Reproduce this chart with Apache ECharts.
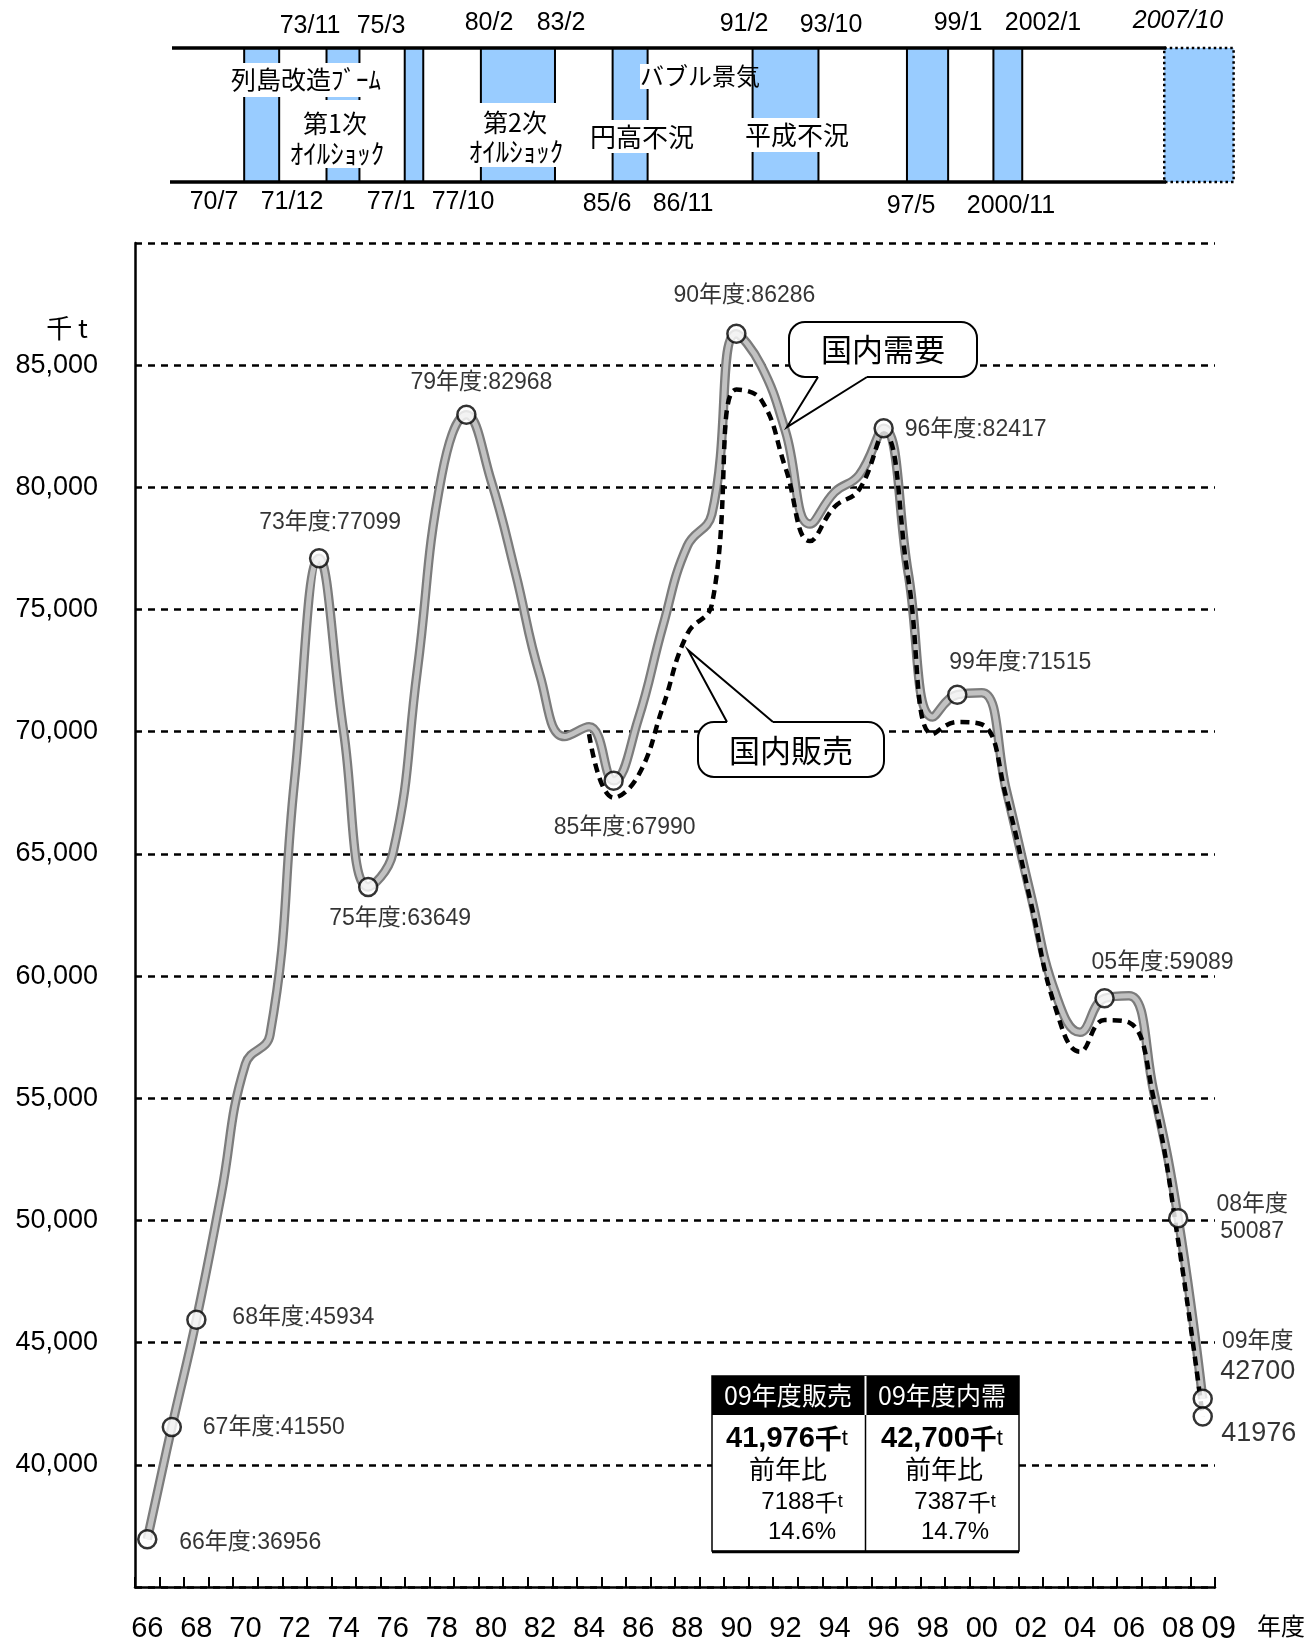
<!DOCTYPE html>
<html><head><meta charset="utf-8">
<script src="https://cdn.jsdelivr.net/npm/echarts@6/dist/echarts.min.js"></script>
<style>html,body{margin:0;padding:0;background:#fff}#c{width:1315px;height:1646px}</style>
</head><body><div id="c"></div>
<script>
// ---------- data ----------
const years = ['66','67','68','69','70','71','72','73','74','75','76','77','78','79','80','81','82','83','84','85','86','87','88','89','90','91','92','93','94','95','96','97','98','99','00','01','02','03','04','05','06','07','08','09'];
const demand = [36956,41550,45934,51000,56400,57600,68000,77099,70000,63649,65000,72500,80500,82968,80300,76500,72300,69800,70200,67990,70500,74300,77600,78900,86286,85000,82300,78500,79800,80500,82417,76500,70600,71515,71600,67600,63300,59300,57700,59089,59200,55300,50087,42700];
const sales  = [null,null,null,null,null,null,null,null,null,null,null,null,null,null,null,null,null,null,69900,67300,68200,71000,74000,75200,84000,83600,80800,77800,79200,79900,82200,76300,69900,70400,70300,67300,63000,58700,56900,58200,58100,55000,49164,41976];
const markedYears = ['66','67','68','73','75','79','85','90','96','99','05','08','09'];
const yMin = 35000, yMax = 90000, yStep = 5000;
// recession periods (top panel)
const recessions = [
  {start:'70/7', end:'71/12'}, {start:'73/11', end:'75/3'}, {start:'77/1', end:'77/10'},
  {start:'80/2', end:'83/2'}, {start:'85/6', end:'86/11'}, {start:'91/2', end:'93/10'},
  {start:'97/5', end:'99/1'}, {start:'2000/11', end:'2002/1'}, {start:'2007/10', end:null}
];
const topDates = ['73/11','75/3','80/2','83/2','91/2','93/10','99/1','2002/1','2007/10'];
const bottomDates = ['70/7','71/12','77/1','77/10','85/6','86/11','97/5','2000/11'];
const phases = ['列島改造ﾌﾞｰﾑ','第1次','ｵｲﾙｼｮｯｸ','第2次','ｵｲﾙｼｮｯｸ','円高不況','バブル景気','平成不況'];

// ---------- layout / style ----------
const FONT = '"Liberation Sans","Noto Sans CJK JP",sans-serif';
const JP = '"Noto Sans CJK JP","Liberation Sans",sans-serif';
const PANEL_LEFT = 132, PANEL_PX_PER_YEAR = 24.7, PANEL_MAX = 2010.6;

function toYear(s){ const [a,b] = s.split('/'); let y = +a; if (y < 100) y += 1900; return y + (+b - 0.5)/12; }

const labelStyle = {
  '66': {align:'left', offset:[32,3]},
  '67': {align:'left', offset:[31,1]},
  '68': {align:'left', offset:[36,-2]},
  '73': {align:'center', offset:[11,-36]},
  '75': {align:'center', offset:[32,32]},
  '79': {align:'center', offset:[15,-32]},
  '85': {align:'center', offset:[11,47]},
  '90': {align:'center', offset:[8,-38]},
  '96': {align:'left', offset:[21,1]},
  '99': {align:'center', offset:[63,-32]},
  '05': {align:'center', offset:[58,-36]},
  '08': {align:'center', offset:[74,0], two:true},
  '09': {align:'center', offset:[55,-42], big:true}
};

const markerData = markedYears.map(y => {
  const i = years.indexOf(y), v = demand[i], st = labelStyle[y];
  let fmt = y + '年度:' + v;
  if (st.two) fmt = y + '年度\n' + v;
  if (st.big) fmt = '{a|' + y + '年度}\n{b|' + v + '}';
  return { value: [y, v], label: { show:true, position:'inside', align:st.align, verticalAlign:'middle',
    offset: st.offset, formatter: fmt, fontSize: 23, lineHeight: 27, color:'#000', textBorderWidth:0, fontFamily: FONT,
    rich: { a:{fontSize:23, lineHeight:30, fontFamily:FONT, color:'#000'}, b:{fontSize:27, lineHeight:30, fontFamily:FONT, color:'#000'} } } };
});
const lastI = years.length - 1;
markerData.push({ value: [years[lastI], sales[lastI]], label: { show:true, position:'inside', align:'center',
  verticalAlign:'middle', offset:[56,17], formatter: String(sales[lastI]), fontSize:27, color:'#000', textBorderWidth:0, fontFamily:FONT } });

const panelData = recessions.map(r => [toYear(r.start), r.end ? toYear(r.end) : PANEL_MAX, r.end ? 0 : 1]);

// table values
const sDiff = sales[lastI-1] - sales[lastI], dDiff = demand[lastI-1] - demand[lastI];
const sPct = (Math.round(sDiff / sales[lastI-1] * 1000) / 10).toFixed(1) + '%';
const dPct = (Math.round(dDiff / demand[lastI-1] * 1000) / 10).toFixed(1) + '%';
const fmtN = n => n.toLocaleString('en-US');

function txt(x, y, text, size, extra) {
  return Object.assign({ type:'text', x, y, z:50, style: Object.assign({ text, fontSize:size, fontFamily:FONT,
    fill:'#000', align:'center', verticalAlign:'middle' }, (extra && extra.style) || {}) }, extra && extra.el || {});
}

const graphics = [];
// panel lines
graphics.push({type:'line', z:40, shape:{x1:172,y1:48,x2:1166,y2:48}, style:{stroke:'#000', lineWidth:3.5}});
graphics.push({type:'line', z:40, shape:{x1:170,y1:182,x2:1166,y2:182}, style:{stroke:'#000', lineWidth:3.5}});
// white label backgrounds
[[222,63,170,34],[284,100,106,68],[464,103,104,64],[588,120,108,33],[640,64,110,25],[743,118,109,34]].forEach(r =>
  graphics.push({type:'rect', z:41, shape:{x:r[0],y:r[1],width:r[2],height:r[3]}, style:{fill:'#fff'}}));
// phase labels
graphics.push(txt(306,79, phases[0], 25, {style:{fontFamily:JP}}));
graphics.push(txt(335,123, phases[1], 25, {style:{fontFamily:JP}}));
graphics.push(txt(337,154, phases[2], 27, {style:{fontFamily:JP}}));
graphics.push(txt(515,122, phases[3], 25, {style:{fontFamily:JP}}));
graphics.push(txt(516,152, phases[4], 27, {style:{fontFamily:JP}}));
graphics.push(txt(642,137, phases[5], 26, {style:{fontFamily:JP}}));
graphics.push(txt(700,76, phases[6], 24, {style:{fontFamily:JP}}));
graphics.push(txt(797,135, phases[7], 26, {style:{fontFamily:JP}}));
// date labels
const topPos = [[310,26],[381,26],[489,23],[561,23],[744,24],[831,25],[958,23],[1043,23],[1178,21]];
topDates.forEach((d,i) => graphics.push(txt(topPos[i][0], topPos[i][1], d, 25,
  i === topDates.length-1 ? {style:{fontStyle:'italic'}} : null)));
const botPos = [[214,202],[292,202],[391,202],[463,202],[607,204],[683,204],[911,206],[1011,206]];
bottomDates.forEach((d,i) => graphics.push(txt(botPos[i][0], botPos[i][1], d, 25)));
// axis unit labels
graphics.push(txt(67,328,'千 t',26,{style:{fontFamily:JP}}));
graphics.push(txt(1281,1626,'年度',24,{style:{fontFamily:JP}}));
// callouts
function callout(box, base, tip, label, tc) {
  const [x,y,w,h] = box;
  graphics.push({type:'rect', z:45, shape:{x,y,width:w,height:h,r:16}, style:{fill:'#fff', stroke:'#000', lineWidth:2}});
  const by = base[2], dir = tip[1] > by ? -1 : 1;
  graphics.push({type:'polygon', z:46, shape:{points:[[base[0],by+dir*7],[base[1],by+dir*7],[base[1],by],tip,[base[0],by]]}, style:{fill:'#fff'}});
  graphics.push({type:'polyline', z:47, shape:{points:[[base[0],by],tip,[base[1],by]]}, style:{stroke:'#000', lineWidth:2, fill:null}});
  graphics.push(txt(tc[0], tc[1], label, 31, {style:{fontFamily:JP}}));
}
callout([789,322,188,55],[818,867,377],[787,427],'国内需要',[883,349]);
callout([698,722,186,55],[727,773,722],[688,650],'国内販売',[791,750]);
// info table
graphics.push({type:'rect', z:45, shape:{x:712,y:1376,width:307,height:175}, style:{fill:'#fff', stroke:'#000', lineWidth:1.5}});
graphics.push({type:'line', z:46, shape:{x1:712,y1:1552,x2:1019,y2:1552}, style:{stroke:'#000', lineWidth:2.5}});
graphics.push({type:'rect', z:46, shape:{x:712,y:1376,width:307,height:39}, style:{fill:'#000'}});
graphics.push({type:'line', z:47, shape:{x1:865.5,y1:1376,x2:865.5,y2:1415}, style:{stroke:'#fff', lineWidth:2}});
graphics.push({type:'line', z:47, shape:{x1:865.5,y1:1415,x2:865.5,y2:1551}, style:{stroke:'#000', lineWidth:1.5}});
const yy = years[lastI];
graphics.push(txt(788,1395, yy+'年度販売', 25, {style:{fill:'#fff', fontFamily:JP}}));
graphics.push(txt(942,1395, yy+'年度内需', 25, {style:{fill:'#fff', fontFamily:JP}}));
function valText(x, y, n) {
  return {type:'text', x, y, z:50, style:{text:'{n|'+fmtN(n)+'}{k|千}{t|t}', align:'center', verticalAlign:'middle',
    rich:{ n:{fontSize:29, fontWeight:'bold', fontFamily:FONT, fill:'#000'}, k:{fontSize:27, fontWeight:'bold', fontFamily:JP, fill:'#000'}, t:{fontSize:22, fontFamily:FONT, fill:'#000'} }}};
}
function diffText(x, y, n) {
  return {type:'text', x, y, z:50, style:{text:'{n|'+n+'}{k|千}{t|t}', align:'center', verticalAlign:'middle',
    rich:{ n:{fontSize:24, fontFamily:FONT, fill:'#000'}, k:{fontSize:23, fontFamily:JP, fill:'#000'}, t:{fontSize:18, fontFamily:FONT, fill:'#000'} }}};
}
graphics.push(valText(787,1439, sales[lastI]));
graphics.push(valText(942,1439, demand[lastI]));
graphics.push(txt(788,1469,'前年比',26,{style:{fontFamily:JP}}));
graphics.push(txt(944,1469,'前年比',26,{style:{fontFamily:JP}}));
graphics.push(diffText(802,1502, sDiff));
graphics.push(diffText(955,1502, dDiff));
graphics.push(txt(802,1532, sPct, 24));
graphics.push(txt(955,1532, dPct, 24));

const option = {
  animation: false,
  backgroundColor: '#fff',
  textStyle: { fontFamily: FONT },
  grid: [
    { left:135, right:100, top:243, bottom:59 },
    { left:PANEL_LEFT, top:48, height:134, width:(PANEL_MAX-1966)*PANEL_PX_PER_YEAR }
  ],
  xAxis: [
    { type:'category', data: years, gridIndex:0, boundaryGap:true,
      axisLine:{ lineStyle:{ color:'#000', width:2.5 } },
      axisTick:{ show:true, inside:true, length:10, interval:0, lineStyle:{ color:'#000', width:2 } },
      axisLabel:{ interval:(i) => i % 2 === 0 || i === years.length-1, margin:27, fontSize:29, color:'#000', fontFamily:FONT,
        formatter:(v, i) => i === years.length-1 ? '{e|' + v + '}' : v,
        rich:{ e:{ fontSize:31, padding:[0,0,8,32], fontFamily:FONT, color:'#000' } } },
      splitLine:{ show:false } },
    { type:'value', gridIndex:1, min:1966, max:PANEL_MAX, show:false }
  ],
  yAxis: [
    { type:'value', min:yMin, max:yMax, interval:yStep, gridIndex:0,
      axisLine:{ show:true, lineStyle:{ color:'#000', width:2.5 } },
      axisTick:{ show:false },
      axisLabel:{ margin:37, fontSize:27, color:'#000', fontFamily:FONT,
        formatter:(v) => (v === yMin || v === yMax) ? '' : fmtN(v) },
      splitLine:{ show:true, lineStyle:{ color:'#000', width:2.5, type:[7,6] } } },
    { type:'value', gridIndex:1, min:0, max:1, show:false }
  ],
  series: [
    { name:'国内需要', type:'line', data:demand, smooth:0.45, symbol:'none', z:2,
      lineStyle:{ color:'#7c7c7c', width:9.5 } },
    { name:'国内需要', type:'line', data:demand, smooth:0.45, symbol:'none', z:3,
      lineStyle:{ color:'#c2c2c2', width:5 } },
    { name:'国内販売', type:'line', data:sales, smooth:0.45, symbol:'none', z:4, connectNulls:false,
      lineStyle:{ color:'#000', width:4.5, type:[9,6] } },
    { type:'scatter', data:markerData, symbol:'circle', symbolSize:18, z:6,
      itemStyle:{ color:'#fff', borderColor:'#000', borderWidth:2.5 } },
    { type:'custom', xAxisIndex:1, yAxisIndex:1, data:panelData, z:1,
      renderItem:(params, api) => {
        const s = api.value(0), e = api.value(1), ongoing = api.value(2) === 1;
        const p0 = api.coord([s, 1]), p1 = api.coord([e, 0]);
        return { type:'rect', shape:{ x:p0[0], y:p0[1], width:p1[0]-p0[0], height:p1[1]-p0[1] },
          style:{ fill:'#99ccff', stroke:'#000', lineWidth: ongoing ? 2.5 : 2, lineDash: ongoing ? [2.5,3] : null } };
      } }
  ],
  graphic: graphics
};
const chart = echarts.init(document.getElementById('c'));
chart.setOption(option);
</script></body></html>
